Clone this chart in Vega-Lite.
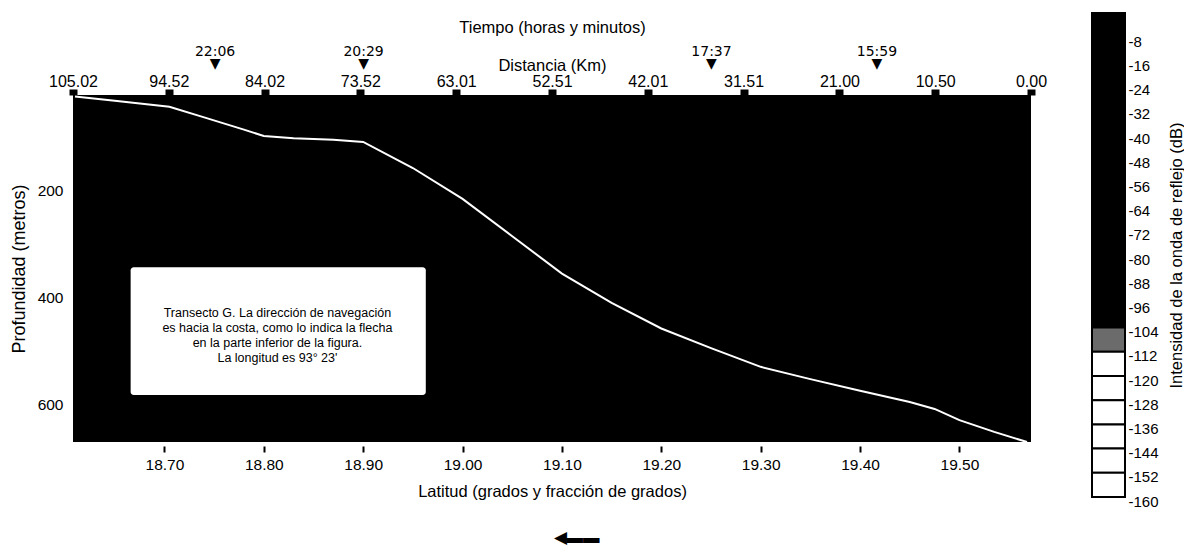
{
  "$schema": "https://vega.github.io/schema/vega-lite/v6.json",
  "background": "white",
  "padding": {"left": 10, "top": 12, "right": 2, "bottom": 0},
  "width": 958,
  "height": 347,
  "view": {"fill": "black", "stroke": null},
  "config": {
    "font": "Liberation Sans",
    "axis": {"labelFont": "Liberation Sans", "titleFont": "Liberation Sans", "labelColor": "black", "titleColor": "black", "titleFontWeight": "normal", "labelFontSize": 15.5, "titleFontSize": 16.5, "grid": false, "labelFlush": false},
    "text": {"font": "Liberation Sans"}
  },
  "layer": [
    {
      "data": {"values": [
        {"latitud": 18.610, "profundidad": 23},
        {"latitud": 18.650, "profundidad": 31},
        {"latitud": 18.705, "profundidad": 42},
        {"latitud": 18.740, "profundidad": 62},
        {"latitud": 18.780, "profundidad": 85},
        {"latitud": 18.800, "profundidad": 97},
        {"latitud": 18.830, "profundidad": 101},
        {"latitud": 18.870, "profundidad": 104},
        {"latitud": 18.900, "profundidad": 108},
        {"latitud": 18.950, "profundidad": 157},
        {"latitud": 19.000, "profundidad": 215},
        {"latitud": 19.050, "profundidad": 285},
        {"latitud": 19.100, "profundidad": 355},
        {"latitud": 19.150, "profundidad": 410},
        {"latitud": 19.200, "profundidad": 458},
        {"latitud": 19.250, "profundidad": 495},
        {"latitud": 19.300, "profundidad": 530},
        {"latitud": 19.350, "profundidad": 553},
        {"latitud": 19.400, "profundidad": 575},
        {"latitud": 19.450, "profundidad": 596},
        {"latitud": 19.475, "profundidad": 609},
        {"latitud": 19.500, "profundidad": 630},
        {"latitud": 19.535, "profundidad": 652},
        {"latitud": 19.568, "profundidad": 671}
      ]},
      "mark": {"type": "line", "color": "white", "strokeWidth": 2},
      "encoding": {
        "x": {"field": "latitud", "type": "quantitative",
          "scale": {"domain": [18.608, 19.572], "nice": false, "zero": false},
          "axis": {"orient": "bottom", "title": ["Latitud (grados y fracción de grados)", "\u2800\u2800\u2800\u2800◀▬▬"], "titleLineHeight": 46, "values": [18.7, 18.8, 18.9, 19.0, 19.1, 19.2, 19.3, 19.4, 19.5], "format": ".2f", "domain": false, "offset": 4, "tickSize": 6, "tickWidth": 2, "tickColor": "black", "labelPadding": 5, "titlePadding": 11}},
        "y": {"field": "profundidad", "type": "quantitative",
          "scale": {"domain": [20, 671], "reverse": true, "nice": false, "zero": false},
          "axis": {"orient": "left", "title": "Profundidad (metros)", "values": [0, 200, 400, 600], "domain": false, "ticks": false, "labelPadding": 10, "titleFontSize": 18, "titlePadding": 9}}
      }
    },
    {
      "data": {"values": [
        {"latitud": 18.666, "latitud_fin": 18.963, "profundidad": 343, "profundidad_fin": 583}
      ]},
      "mark": {"type": "rect", "fill": "white", "cornerRadius": 3},
      "encoding": {
        "x": {"field": "latitud", "type": "quantitative", "scale": {"domain": [18.608, 19.572], "nice": false, "zero": false}, "axis": null},
        "x2": {"field": "latitud_fin"},
        "y": {"field": "profundidad", "type": "quantitative", "scale": {"domain": [20, 671], "reverse": true, "nice": false, "zero": false}, "axis": null},
        "y2": {"field": "profundidad_fin"}
      }
    },
    {
      "data": {"values": [
        {"latitud": 18.8137, "profundidad": 429, "texto": "Transecto G. La dirección de navegación\nes hacia  la costa, como lo indica la flecha\nen la parte inferior de la figura.\nLa longitud es 93° 23'"}
      ]},
      "mark": {"type": "text", "align": "center", "baseline": "middle", "lineBreak": "\n", "lineHeight": 15, "fontSize": 12.5, "color": "black"},
      "encoding": {
        "x": {"field": "latitud", "type": "quantitative", "scale": {"domain": [18.608, 19.572], "nice": false, "zero": false}, "axis": null},
        "y": {"field": "profundidad", "type": "quantitative", "scale": {"domain": [20, 671], "reverse": true, "nice": false, "zero": false}, "axis": null},
        "text": {"field": "texto"}
      }
    },
    {
      "data": {"values": [
        {"km": 105.02}, {"km": 94.52}, {"km": 84.02}, {"km": 73.52}, {"km": 63.01}, {"km": 52.51},
        {"km": 42.01}, {"km": 31.51}, {"km": 21.00}, {"km": 10.50}, {"km": 0.00}
      ]},
      "mark": {"type": "point", "opacity": 0},
      "encoding": {
        "x": {"field": "km", "type": "quantitative",
          "scale": {"domain": [105.02, 0], "nice": false, "zero": false},
          "axis": {"orient": "top", "title": "Distancia (Km)", "values": [105.02, 94.52, 84.02, 73.52, 63.01, 52.51, 42.01, 31.51, 21.0, 10.5, 0], "format": ".2f", "domain": false, "tickSize": 6, "tickWidth": 8, "tickColor": "black", "labelFontSize": 16, "labelPadding": 0, "titlePadding": 0}}
      }
    },
    {
      "data": {"values": [
        {"km": 89.5, "hora": "22:06"}, {"km": 73.22, "hora": "20:29"}, {"km": 35.08, "hora": "17:37"}, {"km": 16.94, "hora": "15:59"}
      ]},
      "mark": {"type": "point", "opacity": 0},
      "encoding": {
        "x": {"field": "km", "type": "quantitative",
          "scale": {"domain": [105.02, 0], "nice": false, "zero": false},
          "axis": {"orient": "top", "offset": 37, "title": "Tiempo (horas y minutos)", "values": [89.5, 73.22, 35.08, 16.94],
            "labelExpr": "datum.value == 89.5 ? ['22:06', '▼'] : datum.value == 73.22 ? ['20:29', '▼'] : datum.value == 35.08 ? ['17:37', '▼'] : ['15:59', '▼']",
            "labelFont": "DejaVu Sans", "labelFontSize": 14, "labelLineHeight": 12, "labelOverlap": false, "domain": false, "ticks": false, "labelPadding": 0, "titlePadding": 9}}
      }
    },
    {
      "data": {"values": [
        {"db_sup": 0, "db_inf": -8, "nivel": -4},
        {"db_sup": -8, "db_inf": -16, "nivel": -12},
        {"db_sup": -16, "db_inf": -24, "nivel": -20},
        {"db_sup": -24, "db_inf": -32, "nivel": -28},
        {"db_sup": -32, "db_inf": -40, "nivel": -36},
        {"db_sup": -40, "db_inf": -48, "nivel": -44},
        {"db_sup": -48, "db_inf": -56, "nivel": -52},
        {"db_sup": -56, "db_inf": -64, "nivel": -60},
        {"db_sup": -64, "db_inf": -72, "nivel": -68},
        {"db_sup": -72, "db_inf": -80, "nivel": -76},
        {"db_sup": -80, "db_inf": -88, "nivel": -84},
        {"db_sup": -88, "db_inf": -96, "nivel": -92},
        {"db_sup": -96, "db_inf": -104, "nivel": -100},
        {"db_sup": -104, "db_inf": -112, "nivel": -108},
        {"db_sup": -112, "db_inf": -120, "nivel": -116},
        {"db_sup": -120, "db_inf": -128, "nivel": -124},
        {"db_sup": -128, "db_inf": -136, "nivel": -132},
        {"db_sup": -136, "db_inf": -144, "nivel": -140},
        {"db_sup": -144, "db_inf": -152, "nivel": -148},
        {"db_sup": -152, "db_inf": -160, "nivel": -156}
      ]},
      "mark": {"type": "rect", "stroke": "black", "strokeWidth": 2},
      "encoding": {
        "x": {"datum": 0, "type": "quantitative", "scale": {"domain": [0, 1], "range": [1019, 1052]}, "axis": null},
        "x2": {"datum": 1},
        "y": {"field": "db_sup", "type": "quantitative",
          "scale": {"domain": [-160, 0], "range": [402, -82], "nice": false, "zero": false},
          "axis": {"orient": "right", "offset": 94, "title": "Intensidad de la onda de reflejo (dB)", "titleAngle": 270, "titleBaseline": "top", "values": [-8, -16, -24, -32, -40, -48, -56, -64, -72, -80, -88, -96, -104, -112, -120, -128, -136, -144, -152, -160],
            "labelExpr": "'-' + abs(datum.value)", "domain": false, "ticks": false, "labelPadding": 3, "labelOffset": 4, "labelFontSize": 15, "titlePadding": 10}},
        "y2": {"field": "db_inf"},
        "color": {"field": "nivel", "type": "quantitative",
          "scale": {"type": "threshold", "domain": [-112, -104], "range": ["white", "#6b6b6b", "black"]},
          "legend": null}
      }
    }
  ],
  "resolve": {"scale": {"x": "independent", "y": "independent"}, "axis": {"x": "independent", "y": "independent"}}
}
